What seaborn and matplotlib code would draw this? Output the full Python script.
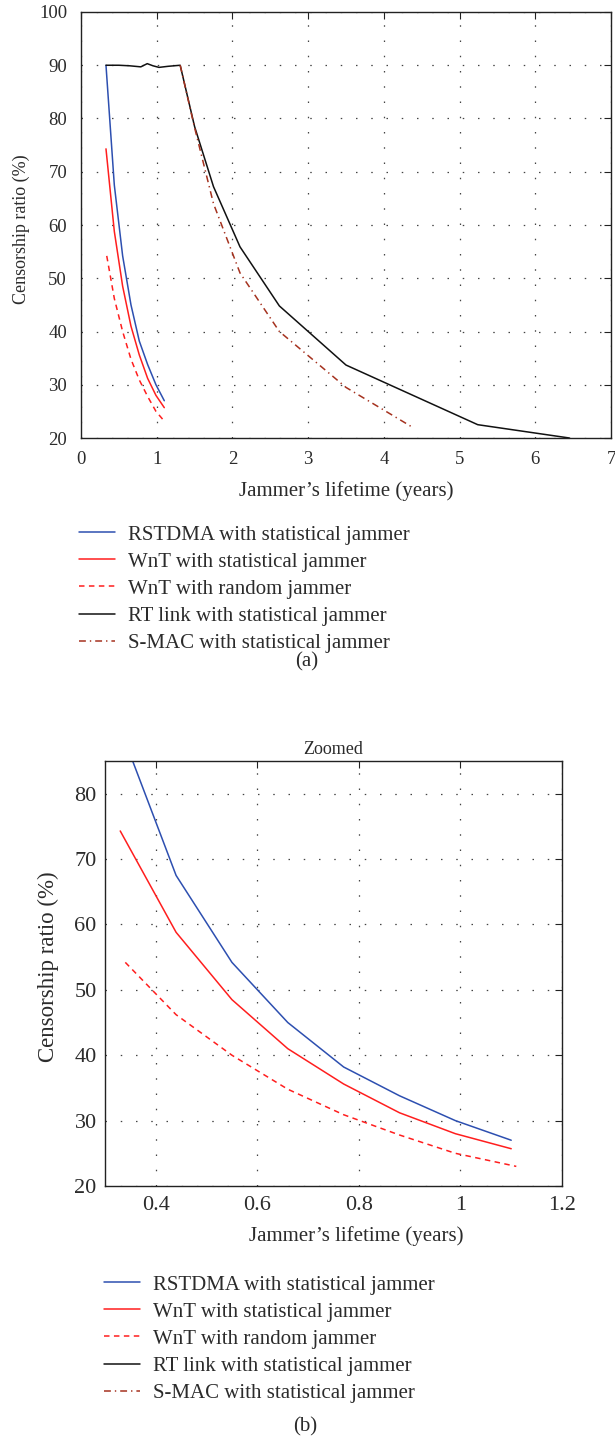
import numpy as np
import pandas as pd
import matplotlib
matplotlib.use("Agg")
import matplotlib.pyplot as plt
import seaborn as sns

# ---------------- data ----------------
x_rstdma = [0.33, 0.44, 0.55, 0.66, 0.77, 0.88, 0.99, 1.10]
y_rstdma = [90.0, 67.5, 54.2, 45.0, 38.2, 33.8, 30.0, 27.0]

x_wnt_stat = [0.33, 0.44, 0.55, 0.66, 0.77, 0.88, 0.99, 1.10]
y_wnt_stat = [74.3, 58.8, 48.5, 41.0, 35.6, 31.2, 28.0, 25.7]

x_wnt_rand = [0.34, 0.44, 0.55, 0.66, 0.77, 0.88, 0.99, 1.11]
y_wnt_rand = [54.2, 46.2, 40.0, 34.8, 30.9, 27.8, 25.0, 23.0]

x_rtlink = [0.33, 0.50, 0.64, 0.79, 0.875, 0.95, 1.03, 1.15, 1.31,
            1.50, 1.75, 2.10, 2.62, 3.50, 5.24, 6.45]
y_rtlink = [90.0, 90.0, 89.9, 89.7, 90.3, 89.9, 89.6, 89.8, 90.0,
            78.5, 67.2, 55.9, 44.8, 33.7, 22.5, 20.0]

x_smac = [1.31, 1.50, 1.75, 2.10, 2.62, 3.50, 4.38]
y_smac = [90.0, 78.3, 64.0, 51.0, 40.0, 29.5, 22.0]

labels = ["RSTDMA with statistical jammer",
          "WnT with statistical jammer",
          "WnT with random jammer",
          "RT link with statistical jammer",
          "S-MAC with statistical jammer"]

xticks_a = [0, 1, 2, 3, 4, 5, 6, 7]
yticks_a = [20, 30, 40, 50, 60, 70, 80, 90, 100]
xticks_b = [0.4, 0.6, 0.8, 1.0, 1.2]
xticklabels_b = ["0.4", "0.6", "0.8", "1", "1.2"]
yticks_b = [20, 30, 40, 50, 60, 70, 80]

# ---------------- style ----------------
sns.set_style("white")
plt.rcParams['font.family'] = ['Liberation Serif', 'DejaVu Serif']
TXT = '#2b2b2b'
plt.rcParams['text.color'] = TXT

series = [
    (x_rstdma, y_rstdma, labels[0], '#2d4fb0', '-'),
    (x_wnt_stat, y_wnt_stat, labels[1], '#ff1e1e', '-'),
    (x_wnt_rand, y_wnt_rand, labels[2], '#ff1e1e', (0, (3.6, 2.9))),
    (x_rtlink, y_rtlink, labels[3], '#111111', '-'),
    (x_smac, y_smac, labels[4], '#a5321f', (0, (4.5, 2.6, 0.9, 2.6))),
]

W, H = 615, 1441
fig = plt.figure(figsize=(W / 100, H / 100), dpi=100)
ax1 = fig.add_axes([81 / W, 1 - 438 / H, 530 / W, 426 / H])
ax2 = fig.add_axes([105 / W, 1 - 1186 / H, 457 / W, 425 / H])


def draw(ax):
    handles = []
    for xs, ys, lab, col, ls in series:
        df = pd.DataFrame({'x': xs, 'y': ys})
        sns.lineplot(data=df, x='x', y='y', ax=ax, sort=False, estimator=None,
                     color=col, linewidth=1.1, legend=False)
        ln = ax.get_lines()[-1]
        ln.set_linestyle(ls)
        ln.set_label(lab)
        handles.append(ln)
    ax.grid(True, linestyle=(0, (1.2, 11)), linewidth=0.9, color='#444444')
    for s in ax.spines.values():
        s.set_color('#222222')
        s.set_linewidth(1.0)
    ax.set_xlabel('')
    ax.set_ylabel('')
    return handles


h1 = draw(ax1)
ax1.set_xlim(0, 7)
ax1.set_ylim(20, 100)
ax1.set_xticks(xticks_a)
ax1.set_yticks(yticks_a)
ax1.tick_params(axis='both', direction='in', top=True, right=True, length=5,
                width=0.8, labelsize=13.5, colors='#222222', labelcolor=TXT)
ax1.tick_params(axis='y', pad=10)
ax1.tick_params(axis='x', pad=9)
ax1.set_xlabel("Jammer\u2019s lifetime (years)", fontsize=15, color=TXT, labelpad=10)
ax1.set_ylabel("Censorship ratio (%)", fontsize=13, color=TXT)
ax1.yaxis.set_label_coords((30 - 81) / 530, 0.49)

h2 = draw(ax2)
ax2.set_xlim(0.3, 1.2)
ax2.set_ylim(20, 85)
ax2.set_xticks(xticks_b)
ax2.set_xticklabels(xticklabels_b)
ax2.set_yticks(yticks_b)
ax2.tick_params(axis='both', direction='in', top=True, right=True, length=5,
                width=0.8, labelsize=16, colors='#222222', labelcolor=TXT)
ax2.tick_params(axis='y', pad=6)
ax2.tick_params(axis='x', pad=7)
ax2.set_xlabel("Jammer\u2019s lifetime (years)", fontsize=15, color=TXT, labelpad=8)
ax2.xaxis.set_label_coords((356 - 105) / 457, -0.095)
ax2.set_ylabel("Censorship ratio (%)", fontsize=16.5, color=TXT)
ax2.yaxis.set_label_coords((59 - 105) / 457, 0.515)
ax2.set_title("Zoomed", fontsize=13, color=TXT, pad=5)

leg_kw = dict(loc='upper left', frameon=False, fontsize=15, handlelength=1.75,
              handletextpad=0.6, labelspacing=0.36, borderpad=0, borderaxespad=0)
fig.legend(handles=h1, labels=labels, bbox_to_anchor=(79 / W, 1 - 525 / H), **leg_kw)
fig.legend(handles=h2, labels=labels, bbox_to_anchor=(104 / W, 1 - 1275 / H), **leg_kw)

fig.text(307 / W, 1 - 662 / H, "(a)", ha='center', va='center', fontsize=15, color=TXT)
fig.text(305 / W, 1 - 1427 / H, "(b)", ha='center', va='center', fontsize=15, color=TXT)

fig.savefig("out.png", dpi=100)
